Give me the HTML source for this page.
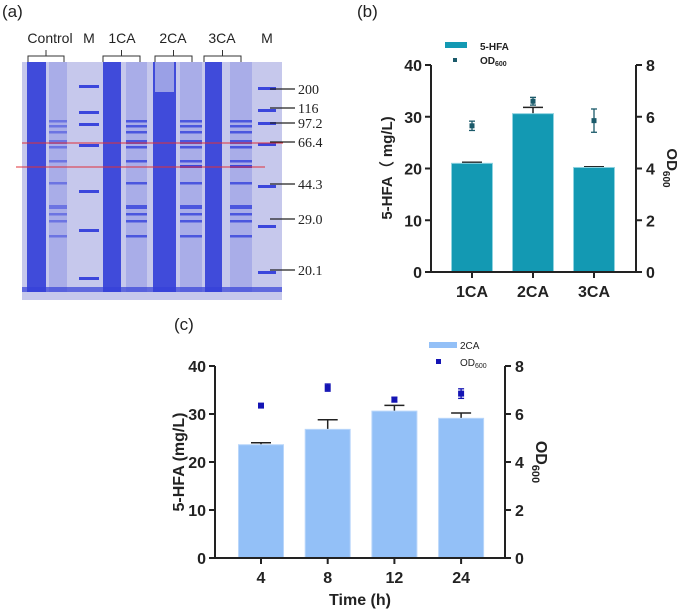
<!DOCTYPE html>
<html><head><meta charset="utf-8">
<style>
body{margin:0;background:#fff;}
svg{display:block;font-family:"Liberation Sans",Arial,sans-serif;}
.tk{font-weight:bold;font-size:16px;}
</style></head>
<body>
<svg id="fig" width="685" height="612" viewBox="0 0 685 612">
<g id="gel"></g>
<g id="pb"></g>
<g id="pc"></g>
</svg>
<script>
// ---- Panel b data ----
const bCategories = ["1CA","2CA","3CA"];
const bHFA = [21.0, 30.6, 20.2];
const bHFAErr = [0.2, 1.2, 0.15];
const bOD = [5.65, 6.6, 5.85];
const bODErr = [0.18, 0.15, 0.45];
const bLeftTicks = [0,10,20,30,40];
const bRightTicks = [0,2,4,6,8];
// ---- Panel c data ----
const cCategories = ["4","8","12","24"];
const cHFA = [23.6, 26.8, 30.6, 29.1];
const cHFAErr = [0.4, 2.0, 1.2, 1.1];
const cOD = [6.35, 7.1, 6.6, 6.85];
const cODErr = [0.05, 0.15, 0.1, 0.2];
const cLeftTicks = [0,10,20,30,40];
const cRightTicks = [0,2,4,6,8];

const NS="http://www.w3.org/2000/svg";
function mk(parent,tag,attrs,text){const e=document.createElementNS(NS,tag);for(const k in attrs)e.setAttribute(k,attrs[k]);if(text!==undefined)e.textContent=text;parent.appendChild(e);return e;}

function chart(g,cfg){
  const yL=v=>cfg.y0-(v/cfg.lmax)*(cfg.y0-cfg.y1);
  const yR=v=>cfg.y0-(v/cfg.rmax)*(cfg.y0-cfg.y1);
  const n=cfg.cats.length;
  const xc=i=>cfg.c0+i*cfg.step;
  // bars
  cfg.hfa.forEach((v,i)=>{
    const top=yL(v+cfg.hfaErr[i]);
    const el=mk(g,'line',{x1:xc(i),x2:xc(i),y1:yL(v),y2:top,stroke:'#222','stroke-width':1.5});
    
    
    const cap=mk(g,'line',{x1:xc(i)-10,x2:xc(i)+10,y1:top,y2:top,stroke:'#222','stroke-width':1.5});
    
    
    const r=mk(g,'rect',{x:xc(i)-cfg.bw/2,y:yL(v),width:cfg.bw,height:cfg.y0-yL(v),fill:cfg.barColor,stroke:cfg.barStroke,'stroke-width':1});
    
    
  });
  // OD points
  cfg.od.forEach((v,i)=>{
    const e=mk(g,'line',{x1:xc(i),x2:xc(i),y1:yR(v-cfg.odErr[i]),y2:yR(v+cfg.odErr[i]),stroke:cfg.ptColor,'stroke-width':1.3});
    
    
    [v-cfg.odErr[i],v+cfg.odErr[i]].forEach(w=>{mk(g,'line',{x1:xc(i)-3,x2:xc(i)+3,y1:yR(w),y2:yR(w),stroke:cfg.ptColor,'stroke-width':1.3});});
    const p=mk(g,'rect',{x:xc(i)-cfg.ps/2,y:yR(v)-cfg.ps/2,width:cfg.ps,height:cfg.ps,fill:cfg.ptColor});
    
    
  });
  // axes
  const ax=mk(g,'path',{d:`M${cfg.xl},${cfg.y1}V${cfg.y0}H${cfg.xr}V${cfg.y1}`,fill:'none',stroke:'#222','stroke-width':2});
  
  
  cfg.lt.forEach(t=>{
    mk(g,'line',{x1:cfg.xl-6,x2:cfg.xl,y1:yL(t),y2:yL(t),stroke:'#222','stroke-width':2});
    const l=mk(g,'text',{x:cfg.xl-9,y:yL(t)+6,'text-anchor':'end',class:'tk',fill:'#222'},t);
    
    
  });
  cfg.rt.forEach(t=>{
    mk(g,'line',{x1:cfg.xr,x2:cfg.xr+6,y1:yR(t),y2:yR(t),stroke:'#222','stroke-width':2});
    const l=mk(g,'text',{x:cfg.xr+10,y:yR(t)+6,class:'tk',fill:'#222'},t);
    
    
  });
  cfg.cats.forEach((c,i)=>{
    mk(g,'line',{x1:xc(i),x2:xc(i),y1:cfg.y0,y2:cfg.y0+6,stroke:'#222','stroke-width':2});
    const l=mk(g,'text',{x:xc(i),y:cfg.y0+25,'text-anchor':'middle',class:'tk',fill:'#222'},c);
    
    
  });
}

// ---- Gel ----
(function(){
  const g=document.getElementById('gel');
  mk(g,'text',{x:2,y:17,'font-size':17,fill:'#222'},'(a)');
  mk(g,'rect',{x:22,y:62,width:260,height:238,fill:'#c6c8ec'});
  const labels=[["Control",50],["M",89],["1CA",122],["2CA",173],["3CA",222],["M",267]];
  labels.forEach(l=>{const t=mk(g,'text',{x:l[1],y:43,'text-anchor':'middle','font-size':14,fill:'#222'},l[0]);});
  [[28,64],[103,140],[155,192],[204,241]].forEach(b=>{
    const m=(b[0]+b[1])/2;
    mk(g,'path',{d:`M${b[0]},62V56H${b[1]}V62M${m},56V50`,fill:'none',stroke:'#333','stroke-width':1});
  });
  // dark lanes
  [[27,46],[103,121],[153,176],[205,222]].forEach(l=>{
    mk(g,'rect',{x:l[0],y:62,width:l[1]-l[0],height:230,fill:'#3440d8',opacity:0.92});
  });
  mk(g,'rect',{x:155,y:62,width:19,height:30,fill:'#9aa0e6'});
  // light lanes
  const bands=[120,125,131,140,146,160,182,205,213,220,235];
  [[49,67],[126,147],[180,202],[230,252]].forEach((l,j)=>{
    mk(g,'rect',{x:l[0],y:62,width:l[1]-l[0],height:230,fill:'#a9ade8'});
    bands.forEach((b,k)=>{mk(g,'rect',{x:l[0],y:b,width:l[1]-l[0],height:(k==3||k==7)?4:2.5,fill:'#3b46dc',opacity:j==0?0.55:0.85});});
    if(j>1) mk(g,'rect',{x:l[0],y:165,width:l[1]-l[0],height:3,fill:'#3b46dc'});
  });
  // marker lanes
  [[79,99,[85,111,123,144,190,229,277]],[258,276,[87,109,122,143,185,225,271]]].forEach(m=>{
    m[2].forEach(y=>mk(g,'rect',{x:m[0],y:y,width:m[1]-m[0],height:3,fill:'#3b46dc'}));
  });
  mk(g,'rect',{x:22,y:287,width:260,height:5,fill:'#3440d8',opacity:0.7});
  mk(g,'line',{x1:22,x2:283,y1:143,y2:143,stroke:'#e0303a','stroke-width':1});
  mk(g,'line',{x1:16,x2:265,y1:167,y2:167,stroke:'#e0303a','stroke-width':1});
  [["200",89],["116",108],["97.2",123],["66.4",142],["44.3",184],["29.0",219],["20.1",270]].forEach(m=>{
    mk(g,'line',{x1:270,x2:295,y1:m[1],y2:m[1],stroke:'#222','stroke-width':1.2});
    const t=mk(g,'text',{x:298,y:m[1]+5,'font-size':14,'font-family':'Liberation Serif, serif',fill:'#222'},m[0]);
    
  });
})();

// ---- Panel b ----
(function(){
  const g=document.getElementById('pb');
  mk(g,'text',{x:357,y:17,'font-size':17,fill:'#222'},'(b)');
  chart(g,{cats:bCategories,hfa:bHFA,hfaErr:bHFAErr,od:bOD,odErr:bODErr,lt:bLeftTicks,rt:bRightTicks,
    y0:272,y1:65,lmax:40,rmax:8,xl:431,xr:636,c0:472,step:61,bw:41,barColor:'#1399b3',barStroke:'#8fd3e0',ptColor:'#1b5a6a',ps:5});
  mk(g,'rect',{x:445,y:42,width:22,height:6,fill:'#1399b3'});
  mk(g,'text',{x:480,y:50,'font-size':10,'font-weight':'bold',fill:'#222'},'5-HFA');
  mk(g,'rect',{x:453,y:58,width:4,height:4,fill:'#1b5a6a'});
  const t=mk(g,'text',{x:480,y:64,'font-size':10,'font-weight':'bold',fill:'#222'},'OD');
  mk(t,'tspan',{'font-size':7,dy:2},'600');
  const yt=mk(g,'text',{transform:'translate(392,168) rotate(-90)','text-anchor':'middle','font-size':15,'font-weight':'bold',fill:'#222'},'5-HFA（ mg/L)');
  
  const rt=mk(g,'text',{transform:'translate(667,168) rotate(90)','text-anchor':'middle','font-size':15,'font-weight':'bold',fill:'#222'},'OD');
  mk(rt,'tspan',{'font-size':10,dy:4},'600');
  
})();

// ---- Panel c ----
(function(){
  const g=document.getElementById('pc');
  mk(g,'text',{x:174,y:330,'font-size':17,fill:'#222'},'(c)');
  chart(g,{cats:cCategories,hfa:cHFA,hfaErr:cHFAErr,od:cOD,odErr:cODErr,lt:cLeftTicks,rt:cRightTicks,
    y0:558,y1:366,lmax:40,rmax:8,xl:215,xr:505,c0:261,step:66.7,bw:45,barColor:'#93c0f7',barStroke:'#b9d6fa',ptColor:'#1414b4',ps:6});
  mk(g,'rect',{x:429,y:342,width:28,height:6,fill:'#93c0f7'});
  mk(g,'text',{x:460,y:349,'font-size':10,fill:'#222'},'2CA');
  mk(g,'rect',{x:436,y:359,width:5,height:5,fill:'#1414b4'});
  const t=mk(g,'text',{x:460,y:366,'font-size':10,fill:'#222'},'OD');
  mk(t,'tspan',{'font-size':7,dy:2},'600');
  const xt=mk(g,'text',{x:360,y:605,'text-anchor':'middle','font-size':16,'font-weight':'bold',fill:'#222'},'Time (h)');
  
  const yt=mk(g,'text',{transform:'translate(184,462) rotate(-90)','text-anchor':'middle','font-size':16,'font-weight':'bold',fill:'#222'},'5-HFA (mg/L)');
  
  const rt=mk(g,'text',{transform:'translate(536,462) rotate(90)','text-anchor':'middle','font-size':16,'font-weight':'bold',fill:'#222'},'OD');
  mk(rt,'tspan',{'font-size':11,dy:4},'600');
  
})();
</script>
</body></html>
